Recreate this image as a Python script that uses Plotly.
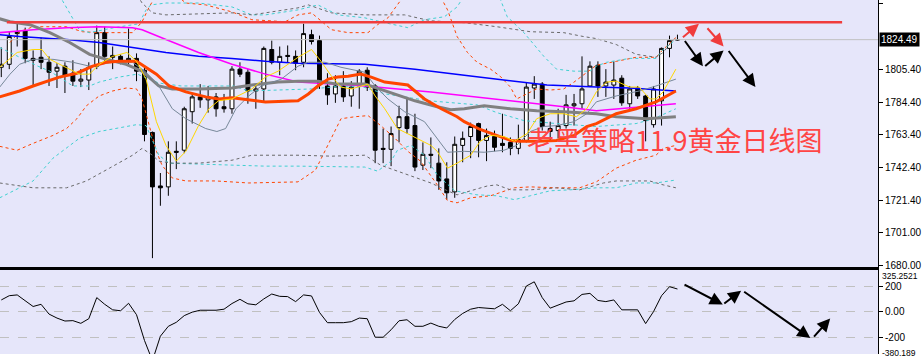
import plotly.graph_objects as go

# ---------------- candle data (index 0..85) ----------------
opens = [1806.8,1808.7,1829.6,1830.3,1812.5,1813.2,1810.0,1804.3,1807.5,1803.0,
         1797.9,1798.6,1807.5,1829.0,1814.4,1813.8,1810.6,1812.5,1804.9,1765.0,
         1730.7,1730.1,1752.9,1753.6,1778.3,1787.8,1785.9,1787.8,1781.5,1780.2,
         1805.6,1803.6,1791.6,1792.9,1818.2,1810.0,1814.4,1813.8,1810.0,1827.7,
         1823.9,1794.8,1789.7,1794.8,1788.4,1794.8,1804.9,1794.8,1754.8,1754.2,
         1768.1,1775.1,1769.4,1744.0,1751.0,1745.3,1735.2,1726.9,1756.7,1762.4,
         1770.7,1759.9,1762.4,1758.0,1758.6,1754.8,1759.9,1793.5,1796.0,1767.5,
         1766.2,1769.4,1782.1,1783.4,1794.8,1808.1,1794.8,1795.4,1799.8,1783.4,
         1793.5,1788.4,1770.0,1785.3,1818.9,1824.3]
highs = [1819.5,1829.6,1834.7,1832.2,1817.6,1825.8,1813.8,1809.4,1810.0,1811.3,
         1805.6,1810.0,1833.5,1832.8,1820.1,1815.1,1831.6,1815.7,1806.8,1765.6,
         1739.0,1759.3,1759.3,1781.5,1789.7,1796.0,1794.8,1790.3,1789.7,1807.5,
         1810.0,1805.6,1794.8,1820.1,1823.9,1820.1,1820.8,1817.6,1834.7,1830.9,
         1827.1,1803.0,1801.7,1804.3,1797.9,1805.6,1806.8,1796.0,1767.5,1768.8,
         1782.1,1787.8,1777.0,1758.6,1761.8,1754.8,1745.9,1762.4,1765.6,1771.3,
         1771.3,1767.5,1766.2,1777.0,1761.8,1770.0,1797.3,1801.1,1797.3,1771.9,
         1780.2,1789.1,1789.7,1813.8,1810.6,1810.6,1805.6,1810.6,1801.7,1794.8,
         1794.8,1789.1,1794.8,1819.5,1827.1,1827.7]
lows = [1800.5,1805.6,1820.1,1809.4,1794.8,1805.6,1794.8,1793.5,1790.3,1794.8,
        1794.1,1792.2,1805.6,1810.0,1805.6,1808.7,1808.7,1797.9,1759.3,1684.4,
        1718.0,1724.4,1741.5,1751.7,1770.7,1780.8,1777.7,1775.1,1777.7,1777.0,
        1800.5,1783.4,1780.2,1784.6,1808.7,1801.7,1810.0,1804.9,1806.8,1821.4,
        1792.9,1782.7,1784.0,1784.6,1781.5,1780.2,1791.6,1745.3,1745.3,1743.4,
        1758.6,1764.3,1740.2,1740.9,1742.1,1728.2,1721.9,1723.1,1745.9,1748.5,
        1749.1,1746.6,1752.9,1752.3,1750.4,1751.0,1758.6,1786.5,1766.2,1759.3,
        1761.2,1767.5,1769.4,1780.2,1794.1,1787.8,1787.8,1786.5,1782.1,1780.2,
        1786.5,1759.3,1768.1,1769.4,1813.2,1823.9]
closes = [1808.7,1826.5,1828.4,1812.5,1811.3,1810.0,1803.6,1806.8,1801.7,1797.9,
          1799.2,1806.8,1829.0,1813.8,1813.2,1810.6,1812.5,1804.3,1763.7,1730.1,
          1729.5,1752.3,1752.3,1780.2,1787.8,1785.9,1787.8,1780.2,1780.2,1805.6,
          1802.4,1791.6,1792.9,1818.9,1810.0,1813.8,1813.8,1809.4,1828.4,1823.3,
          1796.0,1789.1,1794.8,1787.8,1794.1,1804.3,1794.1,1753.6,1754.2,1764.3,
          1775.1,1767.5,1742.8,1751.0,1750.4,1733.9,1726.3,1757.4,1761.2,1768.8,
          1759.9,1763.1,1755.5,1756.7,1754.8,1760.5,1794.1,1796.0,1768.8,1765.6,
          1769.4,1782.7,1783.4,1792.9,1807.5,1794.8,1797.3,1798.6,1784.0,1792.9,
          1788.4,1772.6,1792.9,1818.9,1823.9,1824.49]
candle_idx = list(range(len(closes)))

# ---------------- indicator lines (candle index, value) ----------------
ma5_k = [-0.2,2.0,4.0,5.1,6.1,8.2,9.8,11.1,12.3,14.0,15.8,17.0,18.2,19.5,20.7,22.0,23.2,24.8,26.1,27.3,29.0,31.5,33.2,34.8,36.5,37.3,39.0,40.2,41.5,42.7,44.0,45.2,46.1,47.0,48.2,49.8,51.1,52.3,54.0,54.8,56.1,57.3,59.0,60.2,61.5,63.2,64.5,66.1,67.3,69.0,70.7,72.3,73.6,74.8,76.1,77.3,79.0,80.2,81.5,82.3,83.2,84.8]
ma5_v = [1806.8,1816.3,1818.2,1818.2,1811.9,1806.8,1802.4,1802.4,1808.7,1813.8,1816.3,1810.6,1799.2,1771.9,1756.7,1746.6,1752.9,1769.4,1780.2,1785.3,1786.5,1792.9,1800.5,1804.3,1810.0,1813.2,1818.2,1810.6,1801.1,1794.1,1792.9,1794.8,1796.0,1788.4,1780.2,1767.5,1764.3,1761.2,1756.7,1752.9,1742.1,1745.3,1750.4,1759.3,1763.1,1762.4,1759.3,1764.3,1773.8,1777.0,1777.0,1775.1,1780.2,1791.0,1797.3,1797.9,1794.1,1794.1,1786.5,1786.5,1791.0,1805.6]

ma10_k = [-0.2,1.1,2.3,4.0,6.5,9.0,11.1,12.3,14.0,16.5,18.2,19.8,21.5,23.2,25.7,27.1,28.2,29.5,31.1,32.7,35.2,37.3,38.6,40.7,42.7,45.7,47.0,48.6,50.7,53.2,54.5,56.1,58.2,60.7,63.2,64.8,66.5,68.2,69.8,72.0,73.6,74.8,77.3,80.2,82.3,84.8]
ma10_v = [1794.1,1802.4,1808.7,1811.9,1811.9,1810.0,1807.5,1808.7,1810.0,1810.0,1803.6,1794.8,1780.2,1773.8,1767.5,1765.6,1767.5,1780.2,1788.4,1794.8,1799.2,1807.5,1810.0,1810.0,1806.8,1803.6,1794.8,1786.5,1778.3,1771.9,1763.1,1752.3,1752.9,1752.3,1753.6,1756.7,1765.6,1768.8,1769.4,1771.9,1777.0,1784.6,1788.4,1791.6,1794.8,1799.2]

ma20_k = [-0.2,2.3,4.0,5.7,7.3,9.5,11.5,13.2,14.8,17.0,18.2,19.5,21.1,23.2,25.7,27.3,29.0,31.5,33.2,37.3,38.6,39.8,41.1,42.3,43.6,45.2,46.5,48.2,51.1,53.2,55.3,57.3,58.2,60.2,62.3,64.0,65.2,67.3,69.8,72.0,73.6,74.8,77.3,79.8,82.3,84.8]
ma20_v = [1787.8,1791.6,1794.8,1797.9,1800.5,1803.0,1807.5,1810.0,1810.6,1810.6,1806.8,1802.4,1794.8,1791.0,1787.8,1786.5,1787.2,1785.9,1784.6,1785.3,1789.7,1794.8,1799.2,1800.5,1801.1,1802.4,1800.5,1797.3,1795.4,1786.5,1780.2,1775.1,1771.9,1766.9,1763.1,1759.9,1759.3,1759.3,1759.9,1763.1,1768.8,1770.7,1777.0,1780.2,1784.6,1791.6]

ma60_k = [-0.2,1.1,3.6,6.1,8.6,11.1,13.2,15.7,17.7,19.8,21.5,24.8,29.0,31.5,34.8,37.3,39.8,42.3,45.7,48.6,52.0,54.8,56.5,58.2,60.7,64.0,67.3,70.7,74.8,77.3,81.1,84.8]
ma60_v = [1837.9,1836.0,1834.1,1829.0,1822.7,1815.1,1811.9,1808.7,1804.3,1794.8,1792.9,1792.9,1793.5,1795.4,1797.3,1797.9,1797.9,1796.0,1796.0,1791.0,1785.3,1781.5,1779.6,1780.2,1782.1,1780.2,1778.9,1778.3,1777.0,1775.1,1773.8,1775.1]

ma_blue_k = [-0.2,2.3,6.1,8.2,12.3,16.5,20.7,24.8,29.0,33.2,37.3,45.7,52.0,58.2,64.5,68.6,74.8,79.0,84.8]
ma_blue_v = [1827.7,1826.5,1825.2,1824.6,1822.7,1819.5,1816.3,1813.8,1812.5,1810.6,1809.4,1808.7,1805.6,1801.7,1797.9,1795.4,1794.1,1793.5,1791.6]

ma_mag_k = [-0.2,4.0,8.2,12.3,16.5,17.7,20.7,24.8,29.0,33.2,37.3,45.7,54.0,62.3,70.7,74.8,81.1,84.8]
ma_mag_v = [1829.0,1830.9,1832.2,1832.8,1832.2,1830.9,1824.6,1816.3,1808.7,1802.4,1797.3,1794.8,1791.0,1786.5,1781.5,1778.9,1781.5,1783.4]

bb_or_up_k = [1.1,2.3,4.0,8.2,10.2,12.3,16.5,17.7,18.6,19.8,22.0,23.2,25.7,29.0,31.5,35.7,37.3,39.0,41.5,43.6,46.1,47.3,48.6,49.8,51.1,54.8,56.1,57.3,58.6,59.8,61.5,62.7,64.0,64.8,67.3,69.0,70.7,72.0,74.8,77.3,79.8,82.3,83.2,84.8]
bb_or_up_v = [1822.7,1829.6,1832.8,1832.8,1829.6,1829.0,1829.0,1836.0,1845.5,1856.0,1853.0,1848.0,1846.8,1842.3,1837.3,1836.0,1840.4,1841.7,1830.9,1829.0,1829.0,1834.1,1838.5,1846.8,1856.0,1856.0,1843.6,1826.5,1816.3,1810.0,1805.6,1801.1,1794.1,1786.5,1792.9,1792.2,1792.9,1797.3,1808.1,1810.6,1813.2,1813.2,1818.2,1825.8]

bb_or_lo_k = [-0.2,2.0,4.0,6.5,8.2,9.5,10.7,12.3,14.0,15.7,17.0,17.7,18.6,19.5,20.2,21.5,23.2,27.0,31.1,37.3,39.5,41.5,42.7,44.5,46.1,47.7,49.5,51.1,52.7,54.8,56.1,57.3,59.0,61.5,64.5,66.5,69.8,72.7,74.8,77.3,79.8,82.3,83.2,84.8]
bb_or_lo_v = [1756.1,1753.6,1758.0,1763.1,1767.5,1773.8,1782.1,1788.4,1791.6,1793.5,1792.9,1786.5,1769.4,1752.9,1744.0,1735.8,1733.9,1733.9,1732.6,1733.3,1740.9,1761.2,1773.8,1775.1,1775.8,1769.4,1761.2,1752.9,1746.6,1731.4,1721.2,1719.9,1723.1,1724.4,1729.5,1730.1,1729.5,1729.5,1733.3,1742.1,1747.2,1750.4,1754.8,1756.7]

bb_cy_up_k = [7.3,9.8,11.1,14.2,17.3,18.2,18.8,20.7,24.8,29.0,31.5,33.2,37.3,39.8,42.3,45.7,48.2,51.1,53.2,55.7,57.3,58.6,62.3,63.6,65.7,68.2,69.8,72.0,74.0,74.8,76.1,79.0,82.3,83.2,84.8]
bb_cy_up_v = [1853.0,1830.9,1829.0,1832.2,1834.7,1843.6,1846.8,1848.0,1848.0,1845.5,1840.4,1840.4,1843.6,1846.8,1840.4,1838.5,1835.4,1832.2,1837.3,1839.2,1845.5,1856.0,1856.0,1839.2,1829.0,1813.8,1805.6,1804.3,1804.3,1807.5,1810.0,1812.5,1812.5,1818.2,1824.6]

bb_cy_mid_k = [-0.2,4.6,6.1,9.0,11.1,12.3,14.8,17.1,19.8,22.6,29.2,31.1,39.0,43.0,45.5,48.3,53.8,58.0,59.8,62.3,65.7,69.8,74.8,79.8,82.0,84.8]
bb_cy_mid_v = [1819.5,1807.5,1804.3,1794.8,1794.8,1797.3,1800.5,1802.4,1796.7,1794.8,1794.8,1791.6,1792.9,1794.8,1794.1,1789.7,1785.3,1783.4,1782.7,1777.7,1772.6,1770.7,1768.8,1770.7,1773.8,1780.2]

bb_cy_lo_k = [-0.2,4.0,6.5,9.8,12.3,14.5,17.0,18.2,19.0,19.8,21.1,24.8,29.0,33.2,37.3,45.7,47.3,49.0,49.8,51.5,53.2,54.8,57.0,59.8,62.3,64.5,66.5,69.0,71.5,74.8,77.3,79.8,82.3,84.8]
bb_cy_lo_v = [1723.1,1733.9,1748.5,1761.2,1765.6,1767.5,1770.0,1769.4,1759.3,1750.4,1745.3,1744.7,1744.0,1743.4,1743.4,1742.8,1740.2,1746.6,1753.6,1756.7,1750.4,1737.7,1727.6,1725.0,1724.4,1721.9,1724.4,1727.6,1728.2,1729.5,1729.5,1732.6,1732.6,1734.5]

bb_gr_up_k = [17.1,17.7,19.0,20.7,29.0,31.5,33.2,37.3,38.6,41.5,45.7,50.7,52.3,54.0,58.2,62.3,66.5,70.7,73.2,74.8,77.3,79.8,82.3,83.2,84.8]
bb_gr_up_v = [1853.0,1848.0,1841.7,1840.4,1841.7,1840.4,1841.7,1844.9,1846.8,1841.7,1840.4,1840.4,1838.5,1836.6,1835.4,1832.8,1829.6,1829.0,1826.5,1825.2,1821.4,1815.1,1813.2,1816.3,1826.5]

bb_gr_lo_k = [-0.2,4.0,8.2,10.7,13.6,16.5,17.7,19.0,19.8,21.5,24.8,29.0,31.5,37.3,41.5,45.7,47.7,51.1,54.0,56.1,57.3,59.0,61.1,62.3,64.0,66.5,69.8,72.7,75.7,77.3,81.5,83.2,84.8]
bb_gr_lo_v = [1732.6,1729.5,1729.5,1733.9,1742.1,1750.4,1754.8,1750.4,1746.6,1745.3,1745.3,1747.2,1750.4,1750.4,1749.8,1750.4,1744.0,1737.7,1732.6,1727.6,1725.0,1727.6,1730.7,1731.4,1728.2,1728.2,1729.5,1728.2,1732.6,1733.9,1733.9,1731.4,1729.5]

# CCI per candle
cci = [92,125,131,85,41,58,-18,-49,-72,-69,
       -90,-54,110,58,15,8,66,-23,-223,-380.19,
       -190,-113,-82,-30,-3,12,12,12,20,64,
       97,62,54,100,138,120,118,79,131,123,
       -5,-85,-85,-85,-77,-49,-54,-198,-198,-140,
       -70,-62,-113,-113,-88,-113,-126,-60,-13,20,
       33,28,23,58,8,62,200,233,110,28,
       55,76,85,135,143,88,79,92,15,15,
       15,-92,2,125,195,177]

# levels / labels
resistance = 1835.6
last_price = 1824.49
price_ticks = [1680.0, 1701.0, 1721.4, 1742.4, 1763.4, 1784.4, 1805.4, 1847.4]
price_tick_text = ["1680.00", "1701.00", "1721.40", "1742.40", "1763.40", "1784.40", "1805.40", "1847.40"]
cci_ticks = [200, 0, -200]
cci_tick_text = ["200", "0.00", "-200"]
cci_max_label, cci_min_label = "325.2521", "-380.189"
title_text = "老黑策略11.9黄金日线图"

# forecast arrows (tail -> head) in data coordinates
main_arrows = [  # (tail_k, tail_v, head_k, head_v, color)
    (85.5, 1825.2, 87.7, 1834.7, "#f03c3c"),
    (88.6, 1832.8, 90.8, 1820.1, "#f03c3c"),
    (85.8, 1824.6, 88.2, 1807.5, "black"),
    (88.3, 1806.8, 90.8, 1817.6, "black"),
    (91.3, 1818.2, 94.8, 1794.1, "black"),
]
cci_arrows = [
    (85.7, 218, 90.7, 56),
    (90.7, 56, 93.0, 164),
    (93.2, 164, 101.7, -205),
    (102.0, -205, 104.2, -52),
]

BG = "#e6e6fa"
fig = go.Figure()

def line(k, v, color, width, dash=None, xa="x", ya="y"):
    fig.add_trace(go.Scatter(x=k, y=v, mode="lines", xaxis=xa, yaxis=ya,
                             line=dict(color=color, width=width, dash=dash),
                             hoverinfo="skip", showlegend=False))

dsh = "3px,3px"
line(bb_or_up_k, bb_or_up_v, "#ff4500", 1, dsh)
line(bb_or_lo_k, bb_or_lo_v, "#ff4500", 1, dsh)
line(bb_cy_up_k, bb_cy_up_v, "#40d0d0", 1, dsh)
line(bb_cy_mid_k, bb_cy_mid_v, "#40d0d0", 1, dsh)
line(bb_cy_lo_k, bb_cy_lo_v, "#40d0d0", 1, dsh)
line(bb_gr_up_k, bb_gr_up_v, "#696969", 1, dsh)
line(bb_gr_lo_k, bb_gr_lo_v, "#696969", 1, dsh)
line(ma_blue_k, ma_blue_v, "#0000ff", 1.5)
line(ma_mag_k, ma_mag_v, "#ff00ff", 1.5)
line(ma60_k, ma60_v, "#808080", 3)
line(ma10_k, ma10_v, "#778899", 1)
line(ma20_k, ma20_v, "#ff4500", 3)
line(ma5_k, ma5_v, "#ffd700", 1)

fig.add_trace(go.Candlestick(
    x=candle_idx, open=opens, high=highs, low=lows, close=closes,
    increasing=dict(line=dict(color="black", width=1), fillcolor="white"),
    decreasing=dict(line=dict(color="black", width=1), fillcolor="black"),
    whiskerwidth=0, hoverinfo="skip", showlegend=False))

fig.add_trace(go.Scatter(x=candle_idx, y=cci, mode="lines", xaxis="x2", yaxis="y2",
                         line=dict(color="black", width=1), hoverinfo="skip", showlegend=False))

xr = [-0.1625, 110.21]
H = 358.0
fig.update_layout(
    width=922, height=358,
    margin=dict(l=0, r=39, t=0, b=0),
    paper_bgcolor="white", plot_bgcolor=BG,
    showlegend=False,
    font=dict(family="Liberation Sans, Arial, sans-serif", size=10, color="black"),
    xaxis=dict(domain=[0, 1], range=xr, showticklabels=False, showgrid=False, zeroline=False,
               rangeslider=dict(visible=False), anchor="y", showline=True,
               linecolor="black", linewidth=1.5, ticks=""),
    yaxis=dict(domain=[1 - 270 / H, 1], range=[1678.73, 1849.94], side="right",
               tickvals=price_ticks, ticktext=price_tick_text, ticks="outside",
               ticklen=4, tickcolor="black", showgrid=False, zeroline=False,
               showline=True, linecolor="black", linewidth=1, anchor="x",
               tickfont=dict(size=10)),
    xaxis2=dict(domain=[0, 1], range=xr, showticklabels=False, showgrid=False, zeroline=False,
                anchor="y2", side="top", showline=True, linecolor="black", linewidth=1.5, ticks=""),
    yaxis2=dict(domain=[0, (H - 273) / H], range=[-328.5, 325.25], side="right",
                tickvals=cci_ticks, ticktext=cci_tick_text, ticks="outside", ticklen=4,
                tickcolor="black", showgrid=True, gridcolor="#c0c0c0", griddash="dash",
                zeroline=False, showline=True, linecolor="black", linewidth=1, anchor="x2",
                tickfont=dict(size=10)),
)

fig.add_shape(type="line", xref="x", yref="paper", x0=xr[0], x1=xr[1],
              y0=(H - 40.1) / H, y1=(H - 40.1) / H, line=dict(color="#c0c0c0", width=1))
fig.add_shape(type="line", xref="x", yref="y", x0=0.7, x1=105.7, y0=resistance, y1=resistance,
              line=dict(color="#f03c3c", width=2.5))

ann = []
ann.append(dict(x=1, xref="paper", y=last_price, yref="y", xanchor="left", yanchor="middle",
                xshift=1, text=f"{last_price:.2f}", showarrow=False, bgcolor="black",
                font=dict(color="white", size=10), borderpad=1))
ann.append(dict(x=65.8, xref="x", y=1760.5, yref="y", xanchor="left", yanchor="middle",
                text=title_text, showarrow=False,
                font=dict(family="Noto Sans CJK SC", size=27, color="#ff4545")))
for tk, tv, hk, hv, col in main_arrows:
    ann.append(dict(x=hk, y=hv, ax=tk, ay=tv, xref="x", yref="y", axref="x", ayref="y",
                    text="", showarrow=True, arrowhead=2, arrowsize=1.3, arrowwidth=2,
                    arrowcolor=col))
for tk, tv, hk, hv in cci_arrows:
    ann.append(dict(x=hk, y=hv, ax=tk, ay=tv, xref="x2", yref="y2", axref="x2", ayref="y2",
                    text="", showarrow=True, arrowhead=2, arrowsize=1.3, arrowwidth=2,
                    arrowcolor="black"))
ann.append(dict(x=1, xref="paper", y=279, yref="y2", xanchor="left", yanchor="middle", xshift=2,
                text=cci_max_label, showarrow=False, font=dict(size=8.5)))
ann.append(dict(x=1, xref="paper", y=-322, yref="y2", xanchor="left", yanchor="middle", xshift=2,
                text=cci_min_label, showarrow=False, font=dict(size=8.5)))
fig.update_layout(annotations=ann)

fig.write_html("out.html", config={"displayModeBar": False},
               post_script="document.body.style.margin='0';")
